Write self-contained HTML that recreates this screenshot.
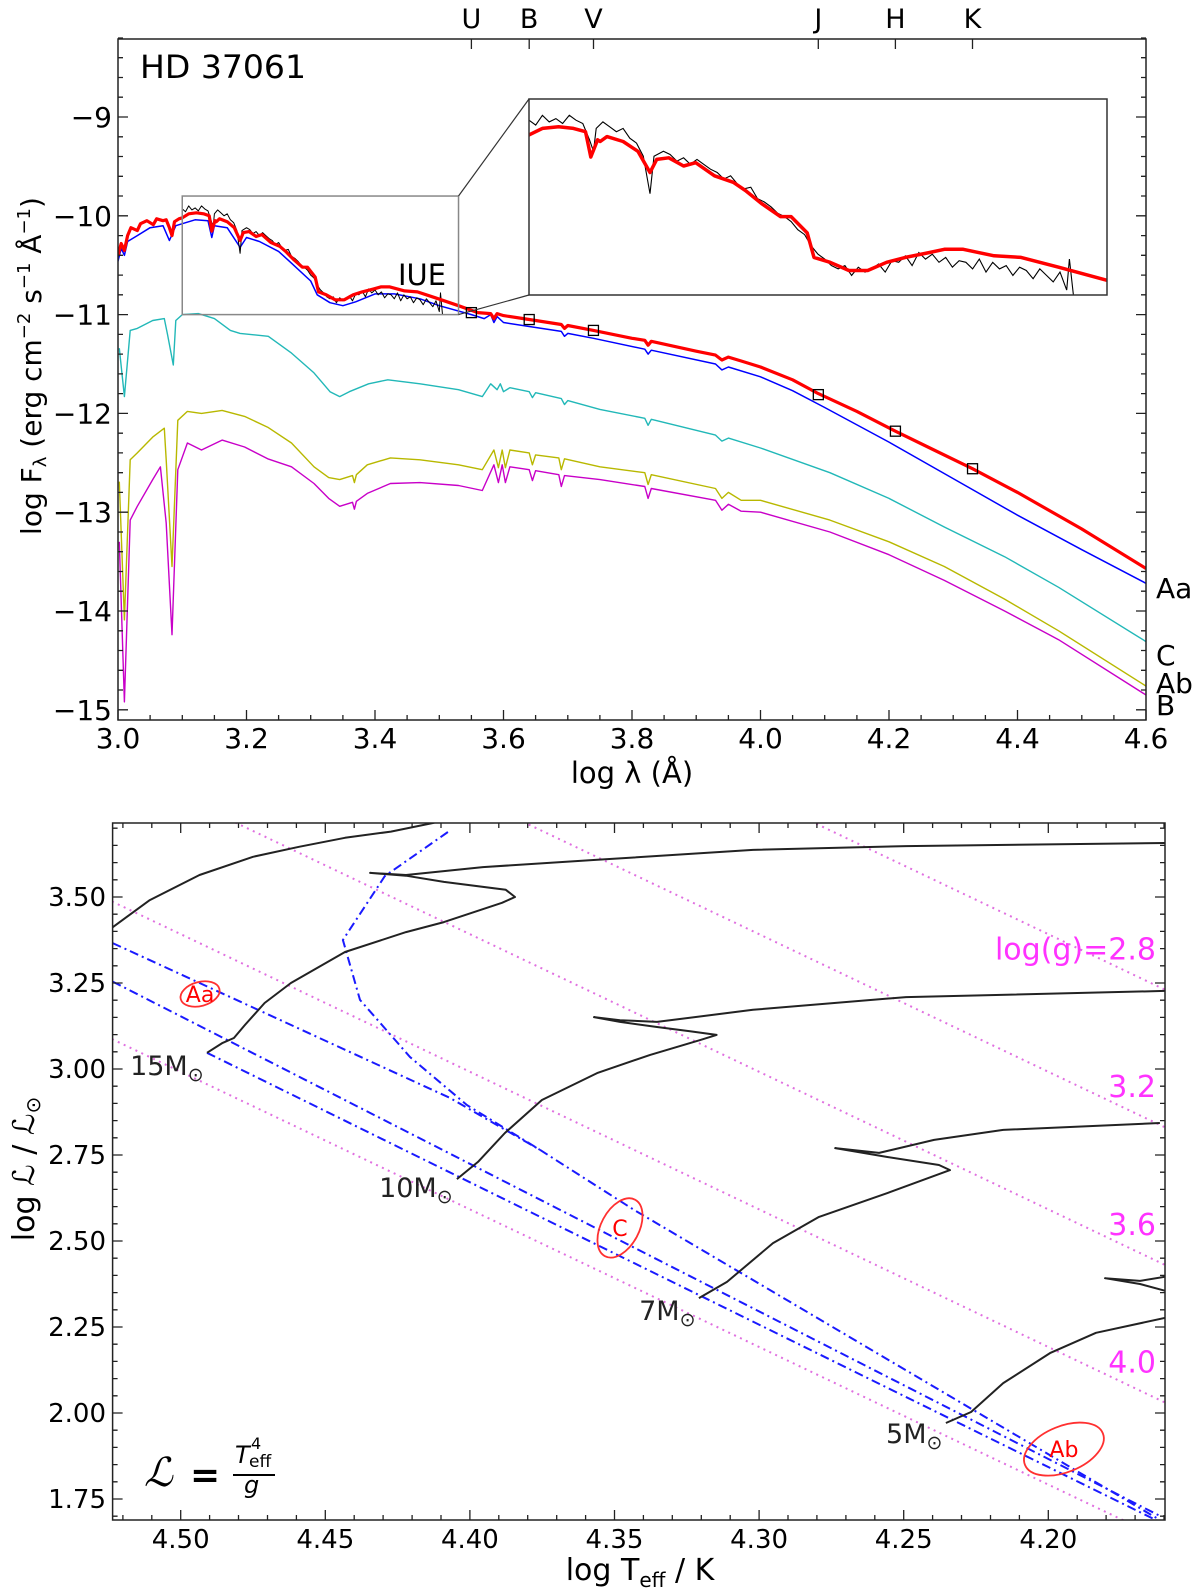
<!DOCTYPE html>
<html><head><meta charset="utf-8"><title>HD 37061 SED and HR diagram</title>
<style>
html,body{margin:0;padding:0;background:#fff;}
svg{display:block;font-family:"DejaVu Sans","Liberation Sans",sans-serif;}
</style></head>
<body>
<svg id="fig" xmlns="http://www.w3.org/2000/svg" width="1200" height="1595" viewBox="0 0 1200 1595">
<defs>
<clipPath id="clipTop"><rect x="118" y="39" width="1028" height="681"/></clipPath>
<clipPath id="clipInset"><rect x="529" y="99" width="578" height="196"/></clipPath>
<clipPath id="clipBot"><rect x="112.6" y="823" width="1052.4" height="697"/></clipPath>
</defs>
<rect x="0" y="0" width="1200" height="1595" fill="#fff"/>
<g id="topPanel"></g>
<g id="botPanel"></g>

<text x="140" y="78" font-size="32" textLength="166" lengthAdjust="spacingAndGlyphs">HD 37061</text>
<text x="398" y="285" font-size="29" textLength="48" lengthAdjust="spacingAndGlyphs">IUE</text>
<text x="632" y="783" font-size="29" text-anchor="middle">log λ (Å)</text>
<text transform="translate(41,366) rotate(-90)" font-size="28" text-anchor="middle">log F<tspan font-size="18" dy="5">λ</tspan><tspan dy="-5"> (erg cm</tspan><tspan font-size="18" dy="-11">−2</tspan><tspan dy="11"> s</tspan><tspan font-size="18" dy="-11">−1</tspan><tspan dy="11"> Å</tspan><tspan font-size="18" dy="-11">−1</tspan><tspan dy="11">)</tspan></text>

<text x="640" y="1580" font-size="30" text-anchor="middle">log T<tspan font-size="20" dy="7">eff</tspan><tspan dy="-7"> / K</tspan></text>
<text transform="translate(34,1169) rotate(-90)" font-size="30" text-anchor="middle">log ℒ / ℒ<tspan font-size="20" dy="6">⊙</tspan></text>

<g>
<text x="144" y="1486" font-size="40" font-style="italic" font-family="DejaVu Serif, serif">ℒ</text>
<text x="190" y="1487" font-size="36" font-weight="bold">=</text>
<text x="235" y="1463" font-size="24" font-style="italic">T</text>
<text x="251" y="1449" font-size="16">4</text>
<text x="249" y="1467" font-size="17">eff</text>
<line x1="233" y1="1475" x2="275" y2="1475" stroke="#000" stroke-width="2"/>
<text x="244" y="1493" font-size="24" font-style="italic">g</text>
</g>

<script>
// ---------- TOP PANEL DATA (log lambda [A], log F) ----------
const bandNames = ["U","B","V","J","H","K"];
const bandLam = [3.55,3.64,3.74,4.09,4.21,4.33];
const photLam = [3.55,3.64,3.74,4.09,4.21,4.33];
const photFlux = [-10.98,-11.05,-11.16,-11.81,-12.18,-12.56];
const xTicksTop = [3.0,3.2,3.4,3.6,3.8,4.0,4.2,4.4,4.6];
const xTickLabelsTop = ["3.0","3.2","3.4","3.6","3.8","4.0","4.2","4.4","4.6"];
const yTicksTop = [-9,-10,-11,-12,-13,-14,-15];
const yTickLabelsTop = ["−9","−10","−11","−12","−13","−14","−15"];
const modelNames = ["Aa","C","Ab","B"];

const redSpec = [[3.000,-10.40],[3.005,-10.28],[3.010,-10.35],[3.015,-10.20],[3.020,-10.12],[3.030,-10.15],[3.035,-10.08],[3.045,-10.05],[3.055,-10.09],[3.060,-10.03],[3.070,-10.05],[3.075,-10.04],[3.080,-10.12],[3.084,-10.20],[3.088,-10.06],[3.095,-10.03],[3.100,-10.02],[3.110,-9.98],[3.122,-9.97],[3.133,-9.98],[3.142,-10.00],[3.146,-10.155],[3.151,-10.05],[3.153,-10.06],[3.158,-10.03],[3.170,-10.06],[3.181,-10.12],[3.190,-10.25],[3.195,-10.17],[3.204,-10.16],[3.215,-10.21],[3.224,-10.19],[3.238,-10.27],[3.252,-10.31],[3.261,-10.36],[3.273,-10.44],[3.287,-10.52],[3.295,-10.52],[3.307,-10.62],[3.312,-10.77],[3.324,-10.80],[3.338,-10.85],[3.352,-10.85],[3.366,-10.80],[3.380,-10.77],[3.398,-10.74],[3.409,-10.72],[3.423,-10.72],[3.446,-10.76],[3.466,-10.77],[3.494,-10.83],[3.530,-10.91],[3.560,-10.98],[3.580,-10.99],[3.585,-11.04],[3.590,-10.99],[3.600,-11.01],[3.640,-11.05],[3.690,-11.10],[3.695,-11.14],[3.700,-11.11],[3.740,-11.16],[3.800,-11.24],[3.820,-11.26],[3.825,-11.31],[3.830,-11.27],[3.900,-11.37],[3.930,-11.41],[3.940,-11.46],[3.950,-11.43],[3.970,-11.47],[4.000,-11.53],[4.050,-11.66],[4.090,-11.80],[4.150,-11.98],[4.210,-12.18],[4.270,-12.37],[4.330,-12.56],[4.400,-12.80],[4.500,-13.17],[4.600,-13.57]];

const blueSpec = [[3.000,-10.46],[3.005,-10.33],[3.010,-10.40],[3.015,-10.26],[3.030,-10.20],[3.050,-10.12],[3.070,-10.10],[3.080,-10.25],[3.090,-10.10],[3.100,-10.08],[3.120,-10.04],[3.140,-10.05],[3.146,-10.22],[3.150,-10.10],[3.170,-10.12],[3.190,-10.32],[3.200,-10.22],[3.220,-10.26],[3.250,-10.36],[3.270,-10.48],[3.300,-10.66],[3.310,-10.80],[3.330,-10.88],[3.350,-10.91],[3.370,-10.87],[3.400,-10.79],[3.430,-10.79],[3.470,-10.84],[3.500,-10.91],[3.550,-11.00],[3.570,-11.04],[3.580,-11.00],[3.585,-11.08],[3.590,-11.02],[3.600,-11.08],[3.640,-11.12],[3.690,-11.17],[3.695,-11.22],[3.700,-11.19],[3.740,-11.24],[3.820,-11.35],[3.825,-11.40],[3.830,-11.36],[3.930,-11.50],[3.940,-11.56],[3.950,-11.53],[4.000,-11.63],[4.050,-11.77],[4.100,-11.94],[4.200,-12.29],[4.300,-12.66],[4.400,-13.03],[4.500,-13.38],[4.600,-13.72]];

const cyanSpec = [[3.002,-11.34],[3.010,-11.83],[3.019,-11.16],[3.030,-11.14],[3.054,-11.06],[3.072,-11.04],[3.077,-11.20],[3.086,-11.51],[3.090,-11.06],[3.100,-11.00],[3.125,-10.99],[3.150,-11.04],[3.175,-11.16],[3.190,-11.19],[3.234,-11.22],[3.270,-11.39],[3.305,-11.59],[3.330,-11.78],[3.345,-11.83],[3.360,-11.78],[3.390,-11.70],[3.420,-11.66],[3.470,-11.70],[3.530,-11.76],[3.567,-11.83],[3.580,-11.70],[3.590,-11.76],[3.595,-11.70],[3.600,-11.78],[3.610,-11.74],[3.640,-11.78],[3.645,-11.84],[3.650,-11.79],[3.690,-11.85],[3.695,-11.91],[3.700,-11.87],[3.750,-11.96],[3.820,-12.05],[3.825,-12.12],[3.830,-12.06],[3.930,-12.22],[3.940,-12.28],[3.950,-12.25],[4.000,-12.35],[4.108,-12.60],[4.200,-12.86],[4.286,-13.15],[4.380,-13.45],[4.464,-13.76],[4.600,-14.31]];

const yellowSpec = [[3.002,-12.69],[3.010,-14.09],[3.019,-12.47],[3.030,-12.40],[3.054,-12.24],[3.072,-12.15],[3.075,-12.47],[3.084,-13.55],[3.093,-12.07],[3.108,-11.98],[3.130,-12.00],[3.162,-11.97],[3.197,-12.03],[3.233,-12.14],[3.270,-12.30],[3.305,-12.54],[3.328,-12.65],[3.345,-12.67],[3.365,-12.63],[3.368,-12.70],[3.371,-12.62],[3.388,-12.52],[3.424,-12.45],[3.470,-12.47],[3.530,-12.52],[3.567,-12.57],[3.585,-12.37],[3.592,-12.55],[3.598,-12.37],[3.603,-12.55],[3.610,-12.37],[3.640,-12.40],[3.645,-12.52],[3.650,-12.42],[3.686,-12.45],[3.690,-12.57],[3.695,-12.46],[3.750,-12.54],[3.820,-12.60],[3.825,-12.72],[3.830,-12.62],[3.930,-12.76],[3.940,-12.86],[3.950,-12.80],[3.970,-12.88],[4.000,-12.88],[4.108,-13.08],[4.200,-13.30],[4.286,-13.55],[4.380,-13.88],[4.464,-14.20],[4.600,-14.76]];

const magentaSpec = [[3.002,-13.30],[3.010,-14.92],[3.019,-13.08],[3.030,-12.94],[3.054,-12.67],[3.066,-12.54],[3.075,-13.11],[3.084,-14.24],[3.093,-12.57],[3.108,-12.30],[3.130,-12.37],[3.162,-12.27],[3.197,-12.34],[3.233,-12.46],[3.270,-12.54],[3.305,-12.71],[3.328,-12.86],[3.345,-12.94],[3.365,-12.90],[3.368,-12.97],[3.371,-12.89],[3.388,-12.81],[3.424,-12.71],[3.470,-12.70],[3.530,-12.73],[3.567,-12.78],[3.585,-12.52],[3.592,-12.70],[3.598,-12.52],[3.603,-12.70],[3.610,-12.54],[3.640,-12.57],[3.645,-12.68],[3.650,-12.58],[3.686,-12.62],[3.690,-12.74],[3.695,-12.63],[3.750,-12.67],[3.820,-12.74],[3.825,-12.86],[3.830,-12.76],[3.930,-12.88],[3.940,-12.98],[3.950,-12.92],[3.970,-12.99],[4.000,-13.00],[4.108,-13.20],[4.200,-13.43],[4.286,-13.69],[4.380,-14.00],[4.464,-14.29],[4.600,-14.85]];

const iueSpec = [[3.100,-9.93],[3.105,-9.96],[3.110,-9.90],[3.115,-9.94],[3.120,-9.92],[3.125,-9.95],[3.130,-9.90],[3.135,-9.93],[3.140,-9.95],[3.145,-10.05],[3.148,-10.12],[3.150,-9.98],[3.155,-9.94],[3.160,-9.97],[3.165,-10.00],[3.170,-9.98],[3.175,-10.04],[3.180,-10.07],[3.185,-10.15],[3.190,-10.38],[3.193,-10.15],[3.200,-10.12],[3.205,-10.14],[3.210,-10.18],[3.215,-10.16],[3.220,-10.20],[3.225,-10.17],[3.230,-10.20],[3.235,-10.23],[3.240,-10.25],[3.245,-10.29],[3.250,-10.27],[3.255,-10.32],[3.260,-10.35],[3.265,-10.34],[3.270,-10.41],[3.275,-10.43],[3.280,-10.46],[3.285,-10.50],[3.290,-10.52],[3.295,-10.55],[3.300,-10.60],[3.305,-10.63],[3.310,-10.70],[3.315,-10.75],[3.320,-10.78],[3.325,-10.82],[3.330,-10.84],[3.335,-10.82],[3.340,-10.88],[3.345,-10.83],[3.350,-10.86],[3.355,-10.84],[3.360,-10.81],[3.365,-10.86],[3.370,-10.79],[3.375,-10.80],[3.380,-10.76],[3.385,-10.82],[3.390,-10.74],[3.395,-10.78],[3.400,-10.75],[3.405,-10.80],[3.410,-10.77],[3.415,-10.83],[3.420,-10.79],[3.425,-10.80],[3.430,-10.84],[3.435,-10.78],[3.440,-10.86],[3.445,-10.80],[3.450,-10.84],[3.455,-10.82],[3.460,-10.88],[3.465,-10.83],[3.470,-10.85],[3.475,-10.90],[3.480,-10.84],[3.485,-10.88],[3.490,-10.92],[3.495,-10.86],[3.500,-10.97],[3.502,-10.78],[3.505,-11.00]];

// ---------- BOTTOM PANEL DATA (log Teff, log L/Lsun) ----------
const xTicksBot = [4.50,4.45,4.40,4.35,4.30,4.25,4.20];
const xTickLabelsBot = ["4.50","4.45","4.40","4.35","4.30","4.25","4.20"];
const yTicksBot = [1.75,2.00,2.25,2.50,2.75,3.00,3.25,3.50];
const yTickLabelsBot = ["1.75","2.00","2.25","2.50","2.75","3.00","3.25","3.50"];
const isoG = [2.8,3.2,3.6,4.0,4.4];
const isoGLabels = ["log(g)=2.8","3.2","3.6","4.0"];
const isoGLabelL = [3.35,2.95,2.55,2.15];

const trackTop = [[4.5239,3.410],[4.5107,3.491],[4.4935,3.564],[4.4750,3.617],[4.4591,3.646],[4.4432,3.672],[4.4273,3.690],[4.4128,3.715],[4.4034,3.737]];
const track15 = [[4.4909,3.047],[4.4855,3.076],[4.4816,3.090],[4.4778,3.128],[4.4710,3.192],[4.4619,3.250],[4.4432,3.340],[4.4221,3.398],[4.4090,3.427],[4.3889,3.483],[4.3844,3.500],[4.3876,3.521],[4.4090,3.544],[4.4221,3.562],[4.4345,3.570],[4.4221,3.564],[4.3955,3.587],[4.3559,3.608],[4.3021,3.637],[4.2492,3.648],[4.1593,3.657]];
const track10 = [[4.4045,2.680],[4.3972,2.730],[4.3879,2.814],[4.3751,2.910],[4.3560,2.988],[4.3377,3.041],[4.3204,3.084],[4.3147,3.099],[4.3239,3.110],[4.3353,3.122],[4.3481,3.137],[4.3571,3.151],[4.3481,3.142],[4.3353,3.137],[4.3021,3.172],[4.2492,3.209],[4.1593,3.227]];
const track7 = [[4.3208,2.334],[4.3111,2.381],[4.2952,2.494],[4.2793,2.570],[4.2554,2.640],[4.2340,2.706],[4.2378,2.721],[4.2554,2.744],[4.2737,2.770],[4.2585,2.756],[4.2395,2.794],[4.2156,2.823],[4.1614,2.843]];
const track5 = [[4.2354,1.971],[4.2267,2.003],[4.2156,2.087],[4.1994,2.174],[4.1835,2.233],[4.1582,2.279]];
const trackHook = [[4.1582,2.352],[4.1683,2.375],[4.1804,2.392],[4.1683,2.384],[4.1582,2.398]];
const massLabels = ["15","10","7","5"];
const massLabelT = [4.5175,4.4314,4.3415,4.2561];
const massLabelL = [2.983,2.628,2.270,1.913];

const zamsA = [[4.5235,3.366],[4.4069,2.916],[4.3758,2.765],[4.3432,2.590],[4.1614,1.689]];
const zamsB = [[4.5235,3.254],[4.1614,1.701]];
const zamsC = [[4.4909,3.047],[4.1614,1.683]];
const tamsCurve = [[4.4076,3.689],[4.4294,3.561],[4.4439,3.375],[4.4380,3.201],[4.4207,3.035],[4.4010,2.895],[4.3758,2.765]];

const compNames = ["Aa","C","Ab"];
const compT = [4.4933,4.3481,4.1946];
const compL = [3.218,2.538,1.895];

// ---------- AXIS FUNCTIONS ----------
const NS = "http://www.w3.org/2000/svg";
const X1 = l => 118 + (l - 3.0) * 642.5;
const Y1 = f => 117 + (-9 - f) * 98.8;
const XI = l => 529 + (l - 3.1) / 0.43 * 578;
const YI = f => 99 + (-9.8 - f) / 1.2 * 196;
const X2 = t => 180.7 + (4.5 - t) * 2892;
const Y2 = L => 1413 - (L - 2.0) * 344;

function mk(tag, attrs, parent) {
  const e = document.createElementNS(NS, tag);
  for (const k in attrs) e.setAttribute(k, attrs[k]);
  parent.appendChild(e);
  return e;
}
function pathD(pts, fx, fy) {
  return pts.map((p, i) => (i ? "L" : "M") + fx(p[0]).toFixed(1) + "," + fy(p[1]).toFixed(1)).join("");
}

const panelTop = document.getElementById("topPanel");
const panelBot = document.getElementById("botPanel");

// ===== TOP PANEL =====
const gTopData = mk("g", {"clip-path": "url(#clipTop)"}, panelTop);



const seriesDefs = [
  [cyanSpec, "#22b8b8", 1.4, "model-c-spectrum"],
  [yellowSpec, "#b8b800", 1.4, "model-ab-spectrum"],
  [magentaSpec, "#c800c8", 1.4, "model-b-spectrum"],
  [blueSpec, "#0000ff", 1.5, "model-aa-spectrum"],
  [iueSpec, "#000000", 1.0, "iue-spectrum"],
  [redSpec, "#ff0000", 3.2, "total-model-spectrum"]
];
seriesDefs.forEach(s => {
  const p = mk("path", {d: pathD(s[0], X1, Y1), fill: "none", stroke: s[1], "stroke-width": s[2], "stroke-linejoin": "round"}, gTopData);
  
  
});
photLam.forEach((l, i) => {
  const r = mk("rect", {x: X1(l) - 5, y: Y1(photFlux[i]) - 5, width: 10, height: 10, fill: "none", stroke: "#000", "stroke-width": 1.3}, gTopData);
  
  
});

const zr = mk("rect", {x: X1(3.1), y: Y1(-9.8), width: X1(3.53) - X1(3.1), height: Y1(-11.0) - Y1(-9.8), fill: "none", stroke: "#888", "stroke-width": 1.5}, panelTop);


const c1 = mk("line", {x1: X1(3.53), y1: Y1(-9.8), x2: 529, y2: 99, stroke: "#333", "stroke-width": 1.2}, panelTop);


const c2 = mk("line", {x1: X1(3.53), y1: Y1(-11.0), x2: 529, y2: 295, stroke: "#333", "stroke-width": 1.2}, panelTop);



const inBg = mk("rect", {x: 529, y: 99, width: 578, height: 196, fill: "#fff", stroke: "none"}, panelTop);


const gIn = mk("g", {"clip-path": "url(#clipInset)"}, panelTop);


const iuePath = mk("path", {d: pathD(iueSpec, XI, YI), fill: "none", stroke: "#000", "stroke-width": 1.1}, gIn);


const redIn = mk("path", {d: pathD(redSpec, XI, YI), fill: "none", stroke: "#ff0000", "stroke-width": 3.5, "stroke-linejoin": "round"}, gIn);


const inBox = mk("rect", {x: 529, y: 99, width: 578, height: 196, fill: "none", stroke: "#333", "stroke-width": 1.5}, panelTop);



const frameT = mk("rect", {x: 118, y: 39, width: 1028, height: 681, fill: "none", stroke: "#222", "stroke-width": 1.5}, panelTop);



let td = "";
for (let k = 0; k <= 32; k++) {
  const v = 3.0 + k * 0.05;
  const len = (k % 4 === 0) ? 10 : 5;
  td += "M" + X1(v).toFixed(1) + ",720v-" + len;
}
for (let k = 0; k <= 34; k++) {
  const f = -15 + k * 0.2;
  const len = (k % 5 === 0) ? 10 : 5;
  const y = Y1(f).toFixed(1);
  td += "M118," + y + "h" + len + "M1146," + y + "h-" + len;
}
bandLam.forEach(l => { td += "M" + X1(l).toFixed(1) + ",39v10"; });
const ticksT = mk("path", {d: td, stroke: "#222", "stroke-width": 1.3, fill: "none"}, panelTop);



xTicksTop.forEach((v, i) => {
  const t = mk("text", {x: X1(v), y: 748, "font-size": 28, "text-anchor": "middle"}, panelTop);
  t.textContent = xTickLabelsTop[i];
  
  
});
yTicksTop.forEach((v, i) => {
  const t = mk("text", {x: 112, y: Y1(v) + 10, "font-size": 28, "text-anchor": "end"}, panelTop);
  t.textContent = yTickLabelsTop[i];
  
  
});
bandLam.forEach((l, i) => {
  const t = mk("text", {x: X1(l), y: 28, "font-size": 27, "text-anchor": "middle"}, panelTop);
  t.textContent = bandNames[i];
  
  
});
const modelLabelY = [598, 665, 693, 715];
modelNames.forEach((n, i) => {
  const t = mk("text", {x: 1156, y: modelLabelY[i], "font-size": 28}, panelTop);
  t.textContent = n;
  
  
});

// ===== BOTTOM PANEL =====
const gBot = mk("g", {"clip-path": "url(#clipBot)"}, panelBot);



isoG.forEach((g, i) => {
  const pts = [[4.54, 4 * 4.54 - g - 10.608], [4.15, 4 * 4.15 - g - 10.608]];
  const p = mk("path", {d: pathD(pts, X2, Y2), fill: "none", stroke: "#e070e0", "stroke-width": 2, "stroke-dasharray": "2,4.5"}, gBot);
  
  
});
[[zamsA, "zams-line-a"], [zamsB, "zams-line-b"], [zamsC, "zams-line-c"], [tamsCurve, "tams-curve"]].forEach(s => {
  const p = mk("path", {d: pathD(s[0], X2, Y2), fill: "none", stroke: "#1a1aff", "stroke-width": 2, "stroke-dasharray": "9,4,2,4"}, gBot);
  
  
});
[[trackTop, "track-20msun"], [track15, "track-15msun"], [track10, "track-10msun"], [track7, "track-7msun"], [track5, "track-5msun"], [trackHook, "track-6msun"]].forEach(s => {
  const p = mk("path", {d: pathD(s[0], X2, Y2), fill: "none", stroke: "#222", "stroke-width": 2, "stroke-linejoin": "round"}, gBot);
  
  
});
const ellSize = [[20, 12, -15], [32, 19, -62], [42, 23, -22]];
compNames.forEach((n, i) => {
  const cx = X2(compT[i]), cy = Y2(compL[i]);
  const e = mk("ellipse", {cx: cx, cy: cy, rx: ellSize[i][0], ry: ellSize[i][1], transform: "rotate(" + ellSize[i][2] + " " + cx + " " + cy + ")", fill: "none", stroke: "#ff3030", "stroke-width": 1.8}, gBot);
  
  
  const t = mk("text", {x: cx, y: cy + 8, "font-size": 22, fill: "#ff0000", "text-anchor": "middle"}, gBot);
  t.textContent = n;
  
  
});
massLabels.forEach((m, i) => {
  const t = mk("text", {x: X2(massLabelT[i]), y: Y2(massLabelL[i]), "font-size": 27, fill: "#222"}, panelBot);
  t.textContent = m + "M";
  const s = document.createElementNS(NS, "tspan");
  s.setAttribute("font-size", "19");
  s.setAttribute("dy", "6");
  s.textContent = "⊙";
  t.appendChild(s);
  
  
});
isoGLabelL.forEach((L, i) => {
  const t = mk("text", {x: 1156, y: Y2(L) + 11, "font-size": 30, fill: "#ff33ff", "text-anchor": "end"}, panelBot);
  t.textContent = isoGLabels[i];
  
  
});

const frameB = mk("rect", {x: 112.6, y: 823, width: 1052.4, height: 697, fill: "none", stroke: "#222", "stroke-width": 1.5}, panelBot);



let bd = "";
for (let k = 0; k <= 36; k++) {
  const t = 4.52 - k * 0.01;
  const len = (k % 5 === 2) ? 10 : 5;
  const x = X2(t).toFixed(1);
  bd += "M" + x + ",1520v-" + len + "M" + x + ",823v" + len;
}
for (let k = 0; k <= 40; k++) {
  const L = 1.70 + k * 0.05;
  const len = (k % 5 === 1) ? 10 : 5;
  const y = Y2(L).toFixed(1);
  bd += "M112.6," + y + "h" + len + "M1165," + y + "h-" + len;
}
const ticksB = mk("path", {d: bd, stroke: "#222", "stroke-width": 1.3, fill: "none"}, panelBot);



xTicksBot.forEach((v, i) => {
  const t = mk("text", {x: X2(v), y: 1548, "font-size": 26, "text-anchor": "middle"}, panelBot);
  t.textContent = xTickLabelsBot[i];
  
  
});
yTicksBot.forEach((v, i) => {
  const t = mk("text", {x: 106, y: Y2(v) + 9, "font-size": 26, "text-anchor": "end"}, panelBot);
  t.textContent = yTickLabelsBot[i];
  
  
});
</script>
</svg>
</body></html>
